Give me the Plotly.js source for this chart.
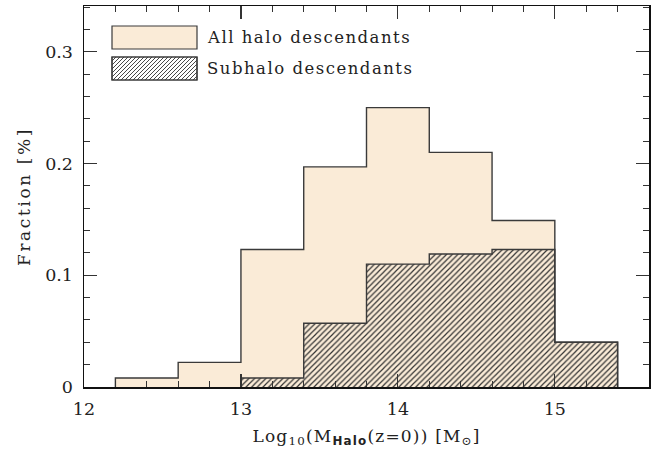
<!DOCTYPE html>
<html>
<head>
<meta charset="utf-8">
<script src="https://cdn.plot.ly/plotly-3.0.1.min.js"></script>
<style>
html,body{margin:0;padding:0;background:#fff;}
#chart{width:660px;height:455px;}
#chart text.annotation-text{letter-spacing:1.5px;}
#chart text.xtick, #chart text.ytick{letter-spacing:1px;}
#chart text.xtitle{letter-spacing:1.2px;}
#chart text.ytitle{letter-spacing:2.6px;}
</style>
</head>
<body>
<div id="chart"></div>
<script>
// ---- data ----
var binEdges = [12.2, 12.6, 13.0, 13.4, 13.8, 14.2, 14.6, 15.0, 15.4];
var allHaloFraction = [0.008, 0.022, 0.123, 0.197, 0.250, 0.210, 0.149, 0.040];
var subhaloFraction = [0, 0, 0.008, 0.057, 0.110, 0.119, 0.123, 0.040];
var seriesNames = ["All halo descendants", "Subhalo descendants"];
var xTickVals = [12, 13, 14, 15];
var yTickVals = [0, 0.1, 0.2, 0.3];
var yTickText = ["0", "0.1", "0.2", "0.3"];

// ---- derived ----
var centers = [], widths = [];
for (var i = 0; i < binEdges.length - 1; i++) {
  centers.push((binEdges[i] + binEdges[i + 1]) / 2);
  widths.push(binEdges[i + 1] - binEdges[i]);
}
function stepOutline(vals) {
  var first = 0;
  while (first < vals.length && vals[first] === 0) first++;
  var xs = [binEdges[first]], ys = [0];
  for (var i = first; i < vals.length; i++) { xs.push(binEdges[i]); ys.push(vals[i]); }
  xs.push(binEdges[vals.length]); ys.push(0);
  return {x: xs, y: ys};
}
var beige = "#FAEBD7";
var edgeCol = "#3a3a3a";
var FONT = "DejaVu Serif, Liberation Serif, serif";

var allStep = stepOutline(allHaloFraction);
var subStep = stepOutline(subhaloFraction);

var traces = [
  {type: "bar", x: centers, y: allHaloFraction, width: widths, name: seriesNames[0],
   marker: {color: beige, line: {width: 0}}, showlegend: false, hoverinfo: "x+y"},
  {type: "bar", x: centers, y: subhaloFraction, width: widths, name: seriesNames[1],
   marker: {color: "rgba(0,0,0,0)", line: {width: 0},
            pattern: {shape: "/", fillmode: "replace", fgcolor: "#333", bgcolor: "rgba(0,0,0,0)", size: 4, solidity: 0.3}},
   showlegend: false, hoverinfo: "x+y"},
  {type: "scatter", mode: "lines", x: allStep.x, y: allStep.y, line: {shape: "hv", color: edgeCol, width: 1.4},
   showlegend: false, hoverinfo: "skip"},
  {type: "scatter", mode: "lines", x: subStep.x, y: subStep.y, line: {shape: "hv", color: edgeCol, width: 1.4},
   showlegend: false, hoverinfo: "skip"}
];

// legend drawn with shapes (pixel offsets from top-left of plot area)
var bx0 = 28, bx1 = 113, bw = bx1 - bx0, bh = 23;
var b1top = 20, b2top = 51;
function pxRect(x0, top, w, h, fill) {
  return {type: "rect", xref: "paper", yref: "paper", xsizemode: "pixel", ysizemode: "pixel",
          xanchor: 0, yanchor: 1, x0: x0, x1: x0 + w, y0: -top, y1: -(top + h),
          fillcolor: fill, line: {color: edgeCol, width: 1.2}, layer: "above"};
}
var hatch = "";
for (var c = -bh; c < bw; c += 4) {
  var t0 = Math.max(0, -c), t1 = Math.min(bh, bw - c);
  if (t1 <= t0) continue;
  hatch += "M" + (bx0 + c + t0) + "," + (-(b2top + bh) + t0) + "L" + (bx0 + c + t1) + "," + (-(b2top + bh) + t1);
}
var shapes = [
  pxRect(bx0, b1top, bw, bh, beige),
  pxRect(bx0, b2top, bw, bh, "#fff"),
  {type: "path", xref: "paper", yref: "paper", xsizemode: "pixel", ysizemode: "pixel",
   xanchor: 0, yanchor: 1, path: hatch, line: {color: "#333", width: 0.9}, layer: "above"},
  pxRect(bx0, b2top, bw, bh, "rgba(0,0,0,0)")
];
var annotations = [
  {xref: "paper", yref: "paper", x: 0, y: 1, xanchor: "left", yanchor: "middle", align: "left",
   xshift: 121, yshift: -(b1top + bh / 2), text: seriesNames[0], showarrow: false,
   font: {family: FONT, size: 16.5, color: "#222"}},
  {xref: "paper", yref: "paper", x: 0, y: 1, xanchor: "left", yanchor: "middle", align: "left",
   xshift: 121, yshift: -(b2top + bh / 2), text: seriesNames[1], showarrow: false,
   font: {family: FONT, size: 16.5, color: "#222"}}
];

var axisCommon = {
  showline: true, linecolor: "#111", linewidth: 1.5, mirror: "ticks",
  ticks: "inside", ticklen: 13, tickwidth: 1.2, tickcolor: "#333",
  showgrid: false, zeroline: false,
  tickfont: {family: FONT, size: 17.5, color: "#222"}
};

var layout = {
  width: 660, height: 455,
  margin: {l: 84, r: 11, t: 6, b: 68},
  paper_bgcolor: "#fff", plot_bgcolor: "#fff",
  barmode: "overlay", bargap: 0,
  showlegend: false,
  xaxis: Object.assign({}, axisCommon, {
    range: [12, 15.6], tickvals: xTickVals, ticktext: xTickVals.map(String),
    minor: {dtick: 0.2, ticks: "inside", ticklen: 6, tickwidth: 1, tickcolor: "#333", showgrid: false},
    ticklabelstandoff: 5,
    title: {text: "Log<sub>10</sub>(M<sub><span style=\"font-family:DejaVu Sans;font-weight:bold\">Halo</span></sub>(z=0)) [M<sub>⊙</sub>]",
            font: {family: FONT, size: 17, color: "#222"}, standoff: 12}
  }),
  yaxis: Object.assign({}, axisCommon, {
    range: [0, 0.341], tickvals: yTickVals, ticktext: yTickText,
    minor: {dtick: 0.02, ticks: "inside", ticklen: 6, tickwidth: 1, tickcolor: "#333", showgrid: false},
    ticklabelstandoff: 6,
    title: {text: "Fraction [%]", font: {family: FONT, size: 17, color: "#222"}, standoff: 10}
  }),
  shapes: shapes,
  annotations: annotations
};

Plotly.newPlot("chart", traces, layout, {displayModeBar: false, staticPlot: true});
</script>
</body>
</html>
